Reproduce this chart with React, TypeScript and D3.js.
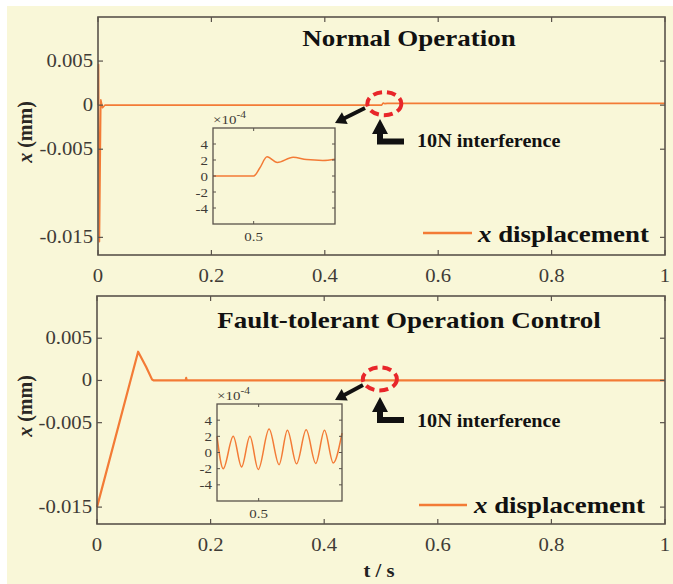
import { useEffect, useRef } from 'react';
import * as d3 from 'd3';

const W = 673;
const H = 584;

// main traces (t in s, x in mm)
const normalT = [0, 0.001, 0.0025, 0.005, 0.008, 0.012, 0.5, 0.503, 0.506, 0.51, 1];
const normalX = [0, 0.0046, -0.0155, 0.0006, -0.0003, 0, 0, 0.00024, 0.00017, 0.0002, 0.0002];

const faultT = [0, 0.0724, 0.0866, 0.097, 0.1, 0.156, 0.157, 0.158, 0.3, 0.5, 0.7, 1];
const faultX = [-0.015, 0.0034, 0.0016, 0.0001, 0, 0, 0.0003, 0, 0, 0, 0, 0];

// zoomed views (x in 1e-4 mm)
const normalZoomT = [0.49, 0.5, 0.5015, 0.5033, 0.5058, 0.5097, 0.513, 0.517, 0.52];
const normalZoomX = [0, 0, 1.0, 2.4, 1.7, 2.35, 2.05, 1.95, 2.1];

const faultZoomT = [0.49, 0.4915, 0.4939, 0.4959, 0.4979, 0.4999, 0.5025, 0.5049, 0.5069, 0.5091, 0.5114, 0.5137, 0.5158, 0.5179, 0.52];
const faultZoomX = [2.0, -2.0, 2.0, -1.8, 2.0, -2.1, 2.9, -1.5, 2.75, -1.4, 2.8, -1.35, 2.75, -1.3, 2.4];

const xTicks = [0, 0.2, 0.4, 0.6, 0.8, 1];
const yTicks = [0.005, 0, -0.005, -0.015];
const yTickLabels = ['0.005', '0', '-0.005', '-0.015'];
const zoomYTicks = [4, 2, 0, -2, -4];
const zoomXTicks = [0.5];

const titles = ['Normal Operation', 'Fault-tolerant Operation Control'];

const BG = '#f9f7d8';
const AXIS = '#5a534b';
const LABEL = '#3f3b36';
const LINE = '#f37b36';
const SERIF = '"Liberation Serif", "DejaVu Serif", serif';

export default function App() {
  const svgRef = useRef<SVGSVGElement>(null);

  useEffect(() => {
    if (!svgRef.current) return;
    const svg = d3.select(svgRef.current);
    svg.selectAll('*').remove();

    svg.append('rect').attr('x', 7).attr('y', 6).attr('width', W - 7).attr('height', H - 6).attr('fill', BG);

    // stretched text helper (the figure text is a bit wide)
    const txt = (g: any, x: number, y: number, s: string, size: number, opt: any = {}) => {
      const t = g.append('text')
        .attr('transform', `translate(${x},${y}) scale(${opt.sx ?? 1.15},1)`)
        .attr('font-family', SERIF)
        .attr('font-size', size)
        .attr('font-weight', opt.bold ? 'bold' : 'normal')
        .attr('text-anchor', opt.anchor ?? 'middle')
        .attr('fill', opt.fill ?? LABEL);
      if (s) t.text(s);
      return t;
    };

    const arrow = (tail: number[], tip: number[], len: number, half: number, sw: number) => {
      const dx = tip[0] - tail[0], dy = tip[1] - tail[1];
      const L = Math.hypot(dx, dy);
      const ux = dx / L, uy = dy / L;
      const bx = tip[0] - ux * len, by = tip[1] - uy * len;
      svg.append('line').attr('x1', tail[0]).attr('y1', tail[1]).attr('x2', bx + ux).attr('y2', by + uy)
        .attr('stroke', '#111').attr('stroke-width', sw);
      svg.append('polygon')
        .attr('points', [[tip[0], tip[1]], [bx - uy * half, by + ux * half], [bx + uy * half, by - ux * half]].map(p => p.join(',')).join(' '))
        .attr('fill', '#111');
    };

    const panels = [
      { left: 98, right: 665, top: 17, bottom: 255, t: normalT, x: normalX, sw: 1.6,
        zoom: { left: 213, right: 335, top: 128, bottom: 224, t: normalZoomT, x: normalZoomX },
        ell: { t: 0.505, dy: -1.5 }, diag: [[365, 108], [335, 123]], elbow: { x: 380, tip: 119, base: 134, bar: 141.5, end: 404 },
        note: 147, legend: { y: 233, x1: 423, x2: 472, tx: 478, ty: 242 }, title: 46 },
      { left: 97, right: 665, top: 296, bottom: 524, t: faultT, x: faultX, sw: 2.2,
        zoom: { left: 217, right: 342, top: 404, bottom: 501, t: faultZoomT, x: faultZoomX },
        ell: { t: 0.498, dy: -1.5 }, diag: [[363, 385], [335, 400]], elbow: { x: 380, tip: 397, base: 412, bar: 420, end: 404 },
        note: 427, legend: { y: 505, x1: 419, x2: 467, tx: 474, ty: 513 }, title: 328 },
    ];

    panels.forEach((p, i) => {
      const x = d3.scaleLinear().domain([0, 1]).range([p.left, p.right]);
      const y = d3.scaleLinear().domain([-0.017, 0.01]).range([p.bottom, p.top]);
      const g = svg.append('g');

      // trace
      const line = d3.line<number>().x((_, k) => x(p.t[k])).y(d => y(d));
      g.append('path').attr('d', line(p.x)).attr('fill', 'none').attr('stroke', LINE)
        .attr('stroke-width', p.sw).attr('stroke-linejoin', 'round');

      // box + inward ticks on all sides
      g.append('rect').attr('x', p.left).attr('y', p.top).attr('width', p.right - p.left).attr('height', p.bottom - p.top)
        .attr('fill', 'none').attr('stroke', AXIS).attr('stroke-width', 1.6);
      xTicks.forEach(v => {
        g.append('line').attr('x1', x(v)).attr('x2', x(v)).attr('y1', p.bottom).attr('y2', p.bottom - 5).attr('stroke', AXIS).attr('stroke-width', 1.2);
        g.append('line').attr('x1', x(v)).attr('x2', x(v)).attr('y1', p.top).attr('y2', p.top + 5).attr('stroke', AXIS).attr('stroke-width', 1.2);
        txt(g, x(v), p.bottom + 27, String(v), 18);
      });
      yTicks.forEach((v, k) => {
        g.append('line').attr('x1', p.left).attr('x2', p.left + 5).attr('y1', y(v)).attr('y2', y(v)).attr('stroke', AXIS).attr('stroke-width', 1.2);
        g.append('line').attr('x1', p.right).attr('x2', p.right - 5).attr('y1', y(v)).attr('y2', y(v)).attr('stroke', AXIS).attr('stroke-width', 1.2);
        txt(g, p.left - 5, y(v) + 6, yTickLabels[k], 18, { anchor: 'end' });
      });

      // y label
      const yl = g.append('text').attr('transform', `translate(${32},${(p.top + p.bottom) / 2 - 4}) rotate(-90)`)
        .attr('font-family', SERIF).attr('font-size', 20).attr('font-weight', 'bold').attr('text-anchor', 'middle').attr('fill', '#2a2724');
      yl.append('tspan').attr('font-style', 'italic').text('x');
      yl.append('tspan').text(' (mm)');

      // title
      txt(g, 409, p.title, titles[i], 22.5, { bold: true, sx: 1.2, fill: '#111' });

      // zoom inset
      const z = p.zoom;
      const zx = d3.scaleLinear().domain([0.49, 0.52]).range([z.left, z.right]);
      const zy = d3.scaleLinear().domain([-6, 6]).range([z.bottom, z.top]);
      const zl = d3.line<number>().x((_, k) => zx(z.t[k])).y(d => zy(d)).curve(d3.curveMonotoneX);
      g.append('path').attr('d', zl(z.x)).attr('fill', 'none').attr('stroke', LINE).attr('stroke-width', 1.5);
      g.append('rect').attr('x', z.left).attr('y', z.top).attr('width', z.right - z.left).attr('height', z.bottom - z.top)
        .attr('fill', 'none').attr('stroke', AXIS).attr('stroke-width', 1.3);
      zoomYTicks.forEach(v => {
        g.append('line').attr('x1', z.left).attr('x2', z.left + 3).attr('y1', zy(v)).attr('y2', zy(v)).attr('stroke', AXIS);
        g.append('line').attr('x1', z.right).attr('x2', z.right - 3).attr('y1', zy(v)).attr('y2', zy(v)).attr('stroke', AXIS);
        txt(g, z.left - 5, zy(v) + 4.5, String(v), 13, { anchor: 'end' });
      });
      zoomXTicks.forEach(v => {
        g.append('line').attr('x1', zx(v)).attr('x2', zx(v)).attr('y1', z.bottom).attr('y2', z.bottom - 3).attr('stroke', AXIS);
        g.append('line').attr('x1', zx(v)).attr('x2', zx(v)).attr('y1', z.top).attr('y2', z.top + 3).attr('stroke', AXIS);
        txt(g, zx(v), z.bottom + 17, String(v), 13);
      });
      const ex = txt(g, z.left, z.top - 4, '', 13, { anchor: 'start' });
      ex.append('tspan').text('×10');
      ex.append('tspan').attr('font-size', 10).attr('dy', -6).text('-4');

      // dashed ring around the disturbance
      svg.append('ellipse').attr('cx', x(p.ell.t)).attr('cy', y(0) + p.ell.dy).attr('rx', 17).attr('ry', 11.5)
        .attr('fill', 'none').attr('stroke', '#e8262a').attr('stroke-width', 4).attr('stroke-dasharray', '9 5');

      arrow(p.diag[0], p.diag[1], 11, 6.5, 4);
      const e = p.elbow;
      svg.append('path').attr('d', `M${e.x},${e.base - 1}V${e.bar}H${e.end}`).attr('fill', 'none')
        .attr('stroke', '#111').attr('stroke-width', 6);
      svg.append('polygon').attr('points', `${e.x},${e.tip} ${e.x - 8},${e.base} ${e.x + 8},${e.base}`).attr('fill', '#111');
      txt(svg, 417, p.note, '10N interference', 18, { anchor: 'start', bold: true, sx: 1.12, fill: '#111' });

      // legend
      const lg = p.legend;
      svg.append('line').attr('x1', lg.x1).attr('x2', lg.x2).attr('y1', lg.y).attr('y2', lg.y).attr('stroke', LINE).attr('stroke-width', 2.5);
      const lt = txt(svg, lg.tx, lg.ty, '', 24, { anchor: 'start', bold: true, sx: 1.12, fill: '#111' });
      lt.append('tspan').attr('font-style', 'italic').text('x');
      lt.append('tspan').text(' displacement');
    });

    txt(svg, 379, 577, 't / s', 18, { bold: true, fill: '#222' });
  }, []);

  return (
    <svg
      ref={svgRef}
      width={W}
      height={H}
      viewBox={`0 0 ${W} ${H}`}
      style={{ position: 'absolute', left: 0, top: 0 }}
    />
  );
}
